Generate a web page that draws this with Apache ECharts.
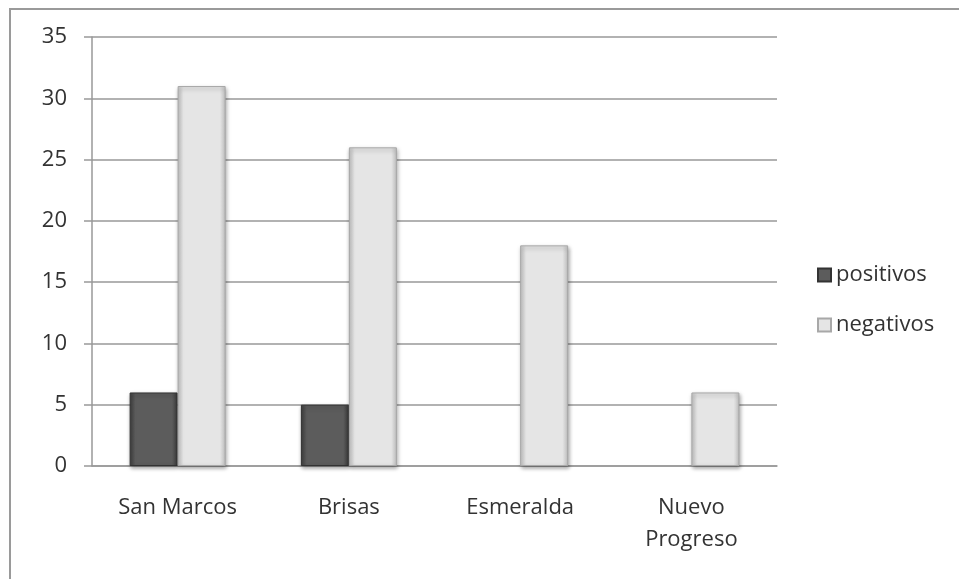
<!DOCTYPE html>
<html>
<head>
<meta charset="utf-8">
<script src="https://cdn.jsdelivr.net/npm/echarts@6/dist/echarts.min.js"></script>
<style>
html, body { margin: 0; padding: 0; background: #fff; }
#chart { width: 959px; height: 579px; }
</style>
</head>
<body>
<div id="chart"></div>
<script>
var categories = ['San Marcos', 'Brisas', 'Esmeralda', 'Nuevo\nProgreso'];
var positivos = [6, 5, null, null];
var negativos = [31, 26, 18, 6];

var chart = echarts.init(document.getElementById('chart'));

function bevel(edge, mid) {
    return {
        type: 'linear', x: 0, y: 0, x2: 1, y2: 0,
        colorStops: [
            { offset: 0, color: edge },
            { offset: 0.12, color: mid },
            { offset: 0.88, color: mid },
            { offset: 1, color: edge }
        ]
    };
}

var option = {
    animation: false,
    textStyle: { fontFamily: 'Open Sans' },
    graphic: [{
        type: 'rect',
        shape: { x: 10, y: 9, width: 970, height: 600 },
        style: { fill: null, stroke: '#9a9a9a', lineWidth: 2 }
    }],
    legend: {
        orient: 'vertical',
        left: 812,
        top: 255,
        itemWidth: 13,
        itemHeight: 13,
        itemGap: 20,
        icon: 'rect',
        textStyle: { fontSize: 22, color: '#333', fontFamily: 'Open Sans', lineHeight: 30 },
        data: ['positivos', 'negativos']
    },
    grid: { left: 92, top: 37, width: 685, height: 429 },
    xAxis: {
        type: 'category',
        data: categories,
        axisLine: { lineStyle: { color: '#999', width: 1.5 } },
        axisTick: { length: 7, lineStyle: { color: '#999', width: 1.5 } },
        axisLabel: { fontSize: 22, color: '#333', margin: 26, lineHeight: 32 }
    },
    yAxis: {
        type: 'value',
        min: 0,
        max: 35,
        interval: 5,
        axisLine: { show: true, lineStyle: { color: '#999', width: 1.5 } },
        axisTick: { show: true, length: 8, lineStyle: { color: '#999', width: 1.5 } },
        axisLabel: { fontSize: 22, color: '#333', margin: 25 },
        splitLine: { lineStyle: { color: '#999', width: 1.5 } }
    },
    series: [{
        name: 'positivos',
        type: 'bar',
        barWidth: 48,
        barGap: '0%',
        data: positivos,
        itemStyle: {
            color: bevel('#3e3e3e', '#5c5c5c'),
            borderColor: '#333',
            borderWidth: 1,
            shadowColor: 'rgba(0,0,0,0.35)',
            shadowBlur: 4,
            shadowOffsetX: 1,
            shadowOffsetY: 2
        }
    }, {
        name: 'negativos',
        type: 'bar',
        barWidth: 48,
        data: negativos,
        itemStyle: {
            color: bevel('#c4c4c4', '#e5e5e5'),
            borderColor: '#a8a8a8',
            borderWidth: 1,
            shadowColor: 'rgba(0,0,0,0.35)',
            shadowBlur: 4,
            shadowOffsetX: 1,
            shadowOffsetY: 2
        }
    }]
};
chart.setOption(option);
</script>
</body>
</html>
